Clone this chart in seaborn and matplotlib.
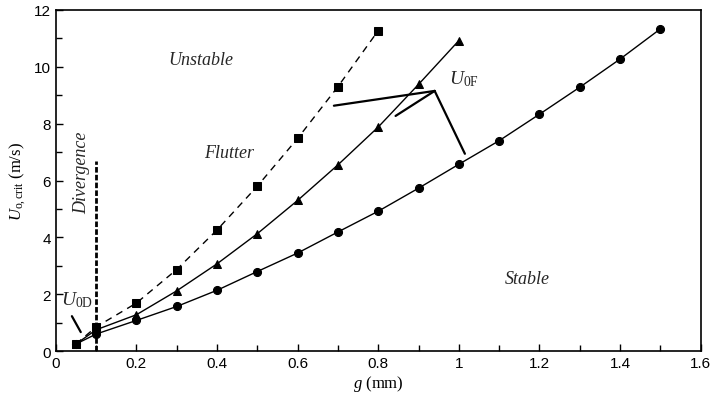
import matplotlib
matplotlib.use("Agg")
import matplotlib.pyplot as plt
import seaborn as sns
import pandas as pd
from matplotlib.ticker import MultipleLocator

sns.set_theme(style="ticks")
plt.rcParams['font.family'] = ['Liberation Sans', 'DejaVu Sans']
plt.rcParams['mathtext.fontset'] = 'custom'
plt.rcParams['mathtext.rm'] = 'Liberation Serif'
plt.rcParams['mathtext.it'] = 'Liberation Serif:italic'

# Data
g_circle = [0.05, 0.1, 0.2, 0.3, 0.4, 0.5, 0.6, 0.7, 0.8, 0.9, 1.0, 1.1, 1.2, 1.3, 1.4, 1.5]
u_circle = [0.25, 0.6, 1.08, 1.57, 2.14, 2.8, 3.45, 4.19, 4.92, 5.73, 6.57, 7.4, 8.33, 9.28, 10.27, 11.33]
g_tri = [0.05, 0.1, 0.2, 0.3, 0.4, 0.5, 0.6, 0.7, 0.8, 0.9, 1.0]
u_tri = [0.25, 0.75, 1.28, 2.12, 3.07, 4.13, 5.3, 6.55, 7.88, 9.38, 10.92]
g_sq = [0.05, 0.1, 0.2, 0.3, 0.4, 0.5, 0.6, 0.7, 0.8]
u_sq = [0.25, 0.85, 1.69, 2.87, 4.26, 5.8, 7.48, 9.3, 11.27]
div_x = [0.1, 0.1]
div_y = [0.0, 6.7]

fig = plt.figure(figsize=(7.15, 4.02), dpi=100)
ax = fig.add_axes([0.078, 0.124, 0.902, 0.849])

sns.lineplot(x=g_sq, y=u_sq, ax=ax, color='black', lw=1.0, marker='s',
             markersize=5.5, markeredgecolor='black', markerfacecolor='black',
             linestyle=(0, (5, 4)), zorder=2)
sns.lineplot(x=g_tri, y=u_tri, ax=ax, color='black', lw=1.0, marker='^',
             markersize=6, markeredgecolor='black', markerfacecolor='black', zorder=3)
sns.lineplot(x=g_circle, y=u_circle, ax=ax, color='black', lw=1.0, marker='o',
             markersize=5.8, markeredgecolor='black', markerfacecolor='black', zorder=4)
ax.plot(div_x, div_y, color='black', lw=2.0, linestyle=(0, (2, 0.8)), zorder=1)

# annotation lines for U0F
vx, vy = 0.94, 9.15
for ex, ey in [(0.69, 8.63), (0.843, 8.27), (1.015, 6.94)]:
    ax.plot([vx, ex], [vy, ey], color='black', lw=1.6)
ax.plot([0.04, 0.062], [1.23, 0.67], color='black', lw=1.6)

ax.set_xlim(0, 1.6)
ax.set_ylim(0, 12)
ax.xaxis.set_major_locator(MultipleLocator(0.2))
ax.xaxis.set_minor_locator(MultipleLocator(0.1))
ax.yaxis.set_major_locator(MultipleLocator(2))
ax.yaxis.set_minor_locator(MultipleLocator(1))
ax.set_xticks([0, 0.2, 0.4, 0.6, 0.8, 1.0, 1.2, 1.4, 1.6])
ax.set_xticklabels(['0', '0.2', '0.4', '0.6', '0.8', '1', '1.2', '1.4', '1.6'])
ax.tick_params(which='both', direction='in', top=False, right=False, color='black',
               labelsize=11, labelcolor='black', width=1)
ax.tick_params(which='major', length=5)
ax.tick_params(which='minor', length=4)
for s in ax.spines.values():
    s.set_color('black')
    s.set_linewidth(1.2)

serif = 'Liberation Serif'
ax.set_xlabel(r'$g$ (mm)', fontsize=12, family=serif, color='black', labelpad=2)
ax.set_ylabel(r'$U_{\mathrm{o,crit}}$ (m/s)', fontsize=12, family=serif, color='black', labelpad=4)

ax.text(0.36, 10.25, 'Unstable', fontsize=13, family=serif, style='italic', ha='center', va='center')
ax.text(0.43, 7.0, 'Flutter', fontsize=13, family=serif, style='italic', ha='center', va='center')
ax.text(1.17, 2.57, 'Stable', fontsize=13, family=serif, style='italic', ha='center', va='center')
ax.text(0.065, 6.3, 'Divergence', fontsize=13, family=serif, style='italic', ha='center',
        va='center', rotation=90)
ax.text(0.975, 9.6, r'$U_{\mathrm{0F}}$', fontsize=14, family=serif, ha='left', va='center')
ax.text(0.012, 1.83, r'$U_{\mathrm{0D}}$', fontsize=14, family=serif, ha='left', va='center')

fig.savefig('out.png', dpi=100, facecolor='white')
